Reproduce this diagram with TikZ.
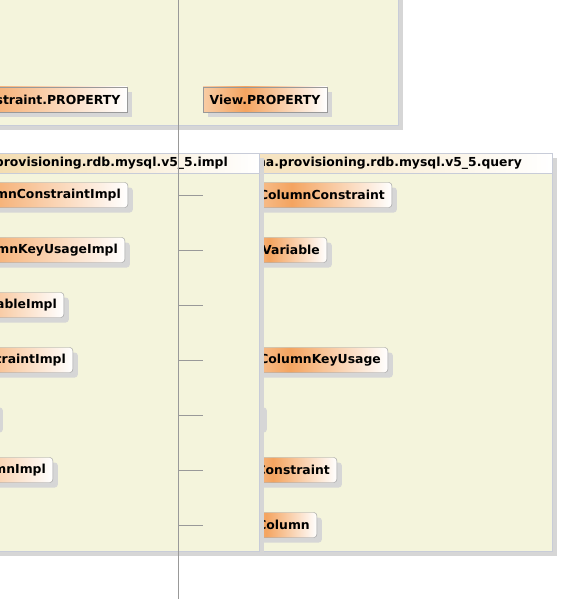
\documentclass[tikz,border=0pt]{standalone}
\usepackage{fontspec}
\setmainfont{DejaVu Sans}
\usetikzlibrary{shadows}

\definecolor{pkgfill}{HTML}{F4F4DC}
\definecolor{pkgline}{HTML}{C8CCD8}
\definecolor{shadowgray}{HTML}{D6D6D6}
\definecolor{headtan}{HTML}{F2D8A6}
\definecolor{classorange}{HTML}{F4A460}
\definecolor{classlight}{HTML}{F8CCA4}
\definecolor{classline}{HTML}{999999}
\definecolor{rulergray}{HTML}{999999}

\pgfdeclarehorizontalshading{classfill}{100bp}{color(0bp)=(classlight); color(25bp)=(classlight); color(42bp)=(classorange); color(75bp)=(white); color(100bp)=(white)}
\pgfdeclarehorizontalshading{headfill}{100bp}{color(0bp)=(headtan); color(25bp)=(headtan); color(75bp)=(white); color(100bp)=(white)}

\begin{document}
\begin{tikzpicture}[
    x=1pt, y=-1pt,
    font=\fontsize{12.4}{14}\selectfont\bfseries,
    boxshadow/.style={drop shadow={shadow xshift=5pt, shadow yshift=-5pt, fill=shadowgray, opacity=1}},
    package/.style={draw=pkgline, fill=pkgfill, boxshadow},
    header/.style={rectangle, draw=pkgline, shading=headfill, minimum height=20pt, inner sep=0pt},
    headtext/.style={inner sep=0pt, anchor=east},
    propbox/.style={rectangle, draw=classline, shading=classfill, minimum height=25pt, inner xsep=6.5pt, align=right, boxshadow},
    classbox/.style={propbox, rounded corners=3pt, inner xsep=7pt},
    tick/.style={draw=rulergray, thin},
    ruler/.style={draw=rulergray, thin}
]

% Page
\fill[white] (0,0) rectangle (585,599);
\useasboundingbox (0,0) rectangle (585,599);

% Upper package
\draw[package] (-150,-100) rectangle (398,125);
\node[propbox, text width=220pt, anchor=east] (constrprop) at (127,99.5) {straint.PROPERTY};
\node[propbox, anchor=west] (viewprop) at (203,99.5) {View.PROPERTY};

% Query package (lies under the impl package)
\draw[package] (150,153) rectangle (552,551);
\node[header, minimum width=402pt, anchor=north west] (queryhead) at (150,153) {};
\node[headtext] (queryname) at (522,163.5) {na.provisioning.rdb.mysql.v5\_5.query};

\node[classbox, text width=138pt, anchor=east] (colconstr) at (392,195) {ColumnConstraint};
\node[classbox, text width=73pt, anchor=east] (variable) at (327,250) {Variable};
\node[classbox, text width=134pt, anchor=east] (keyusage) at (388,360) {ColumnKeyUsage};
\node[classbox, text width=8pt, anchor=east] (hiddenquery) at (262,415) {};
\node[classbox, text width=83pt, anchor=east] (constr) at (337,470) {Constraint};
\node[classbox, text width=63pt, anchor=east] (column) at (317,525) {Column};

% Impl package
\draw[package] (-40,153) rectangle (259,551);
\node[header, minimum width=299pt, anchor=north west] (implhead) at (-40,153) {};
\node[headtext] (implname) at (228,163.5) {provisioning.rdb.mysql.v5\_5.impl};

\node[classbox, text width=220pt, anchor=east] (colconstrimpl) at (128,195) {mnConstraintImpl};
\node[classbox, text width=220pt, anchor=east] (keyusageimpl) at (125,250) {mnKeyUsageImpl};
\node[classbox, text width=160pt, anchor=east] (tableimpl) at (64,305) {ableImpl};
\node[classbox, text width=160pt, anchor=east] (constrimpl) at (73,360) {straintImpl};
\node[classbox, text width=100pt, anchor=east] (hiddenimpl) at (-2,415) {};
\node[classbox, text width=160pt, anchor=east] (columnimpl) at (53,470) {mnImpl};

% Ruler with ticks
\coordinate (rulertop) at (178.5,0);
\coordinate (rulerbot) at (178.5,599);
\draw[ruler] (rulertop) -- (rulerbot);
\foreach \y [count=\i] in {195,250,305,360,415,470,525} {
    \coordinate (tick\i) at (178.5,\y);
    \draw[tick] (tick\i) -- ++(24.5,0);
}

\end{tikzpicture}
\end{document}
